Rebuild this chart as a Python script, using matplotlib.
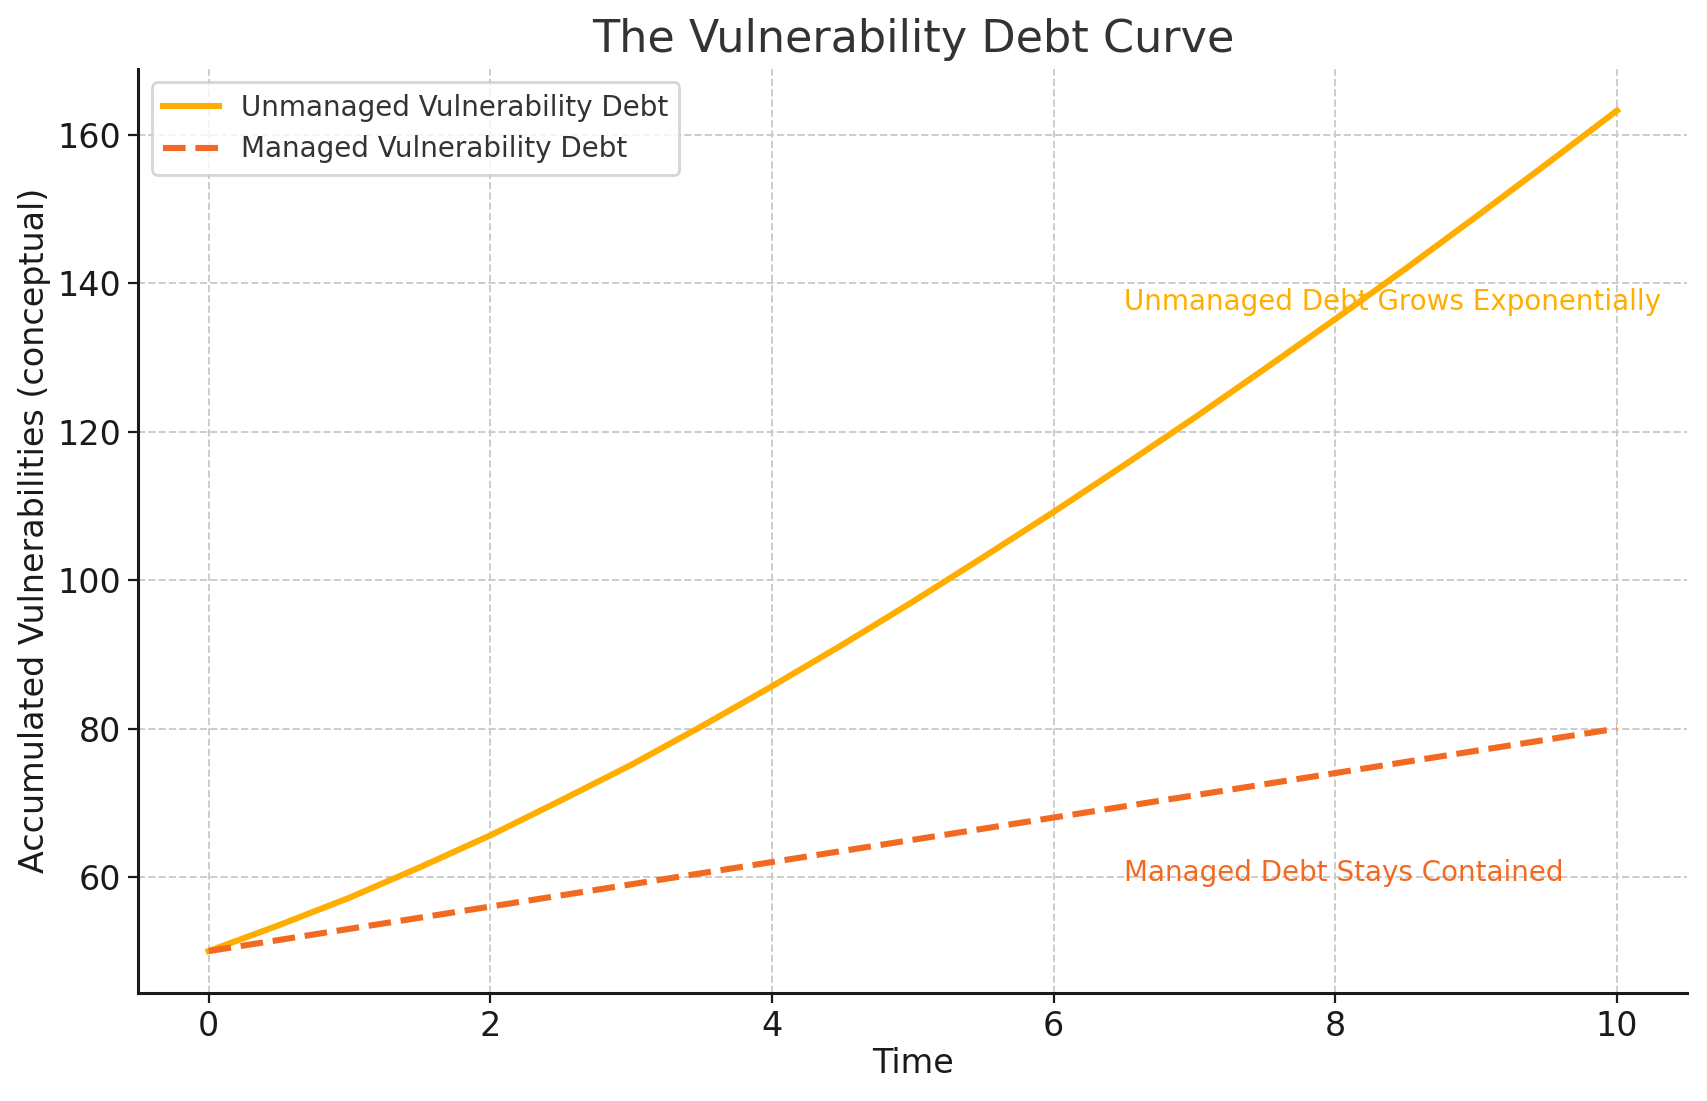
import matplotlib
matplotlib.use("Agg")
import matplotlib.pyplot as plt

# values
time = [0, 0.5, 1, 1.5, 2, 2.5, 3, 3.5, 4, 4.5, 5,
        5.5, 6, 6.5, 7, 7.5, 8, 8.5, 9, 9.5, 10]
unmanaged = [50.0, 53.5, 57.2, 61.3, 65.6, 70.3, 75.1, 80.3, 85.7, 91.3, 97.1,
             103.1, 109.2, 115.5, 121.9, 128.5, 135.2, 142.0, 149.0, 156.1, 163.3]
managed = [50, 51.5, 53, 54.5, 56, 57.5, 59, 60.5, 62, 63.5, 65,
           66.5, 68, 69.5, 71, 72.5, 74, 75.5, 77, 78.5, 80]

series_labels = ["Unmanaged Vulnerability Debt", "Managed Vulnerability Debt"]
note_unmanaged = "Unmanaged Debt Grows Exponentially"
note_managed = "Managed Debt Stays Contained"

c_unmanaged = "#FFAE00"
c_managed = "#F26A21"

fig = plt.figure(figsize=(8.535, 5.505), dpi=200)
ax = fig.add_axes([0.081, 0.098, 0.9075, 0.8397])

ax.plot(time, unmanaged, color=c_unmanaged, lw=2.2, label=series_labels[0])
ax.plot(time, managed, color=c_managed, lw=2.2, ls="--", label=series_labels[1])

ax.text(6.5, 136.4, note_unmanaged, color=c_unmanaged, fontsize=10)
ax.text(6.5, 59.4, note_managed, color=c_managed, fontsize=10)

ax.set_title("The Vulnerability Debt Curve", fontsize=16, color="#333333")
ax.set_xlabel("Time", fontsize=12, color="#1a1a1a", labelpad=1.5)
ax.set_ylabel("Accumulated Vulnerabilities (conceptual)", fontsize=12, color="#1a1a1a", labelpad=2.3)
ax.tick_params(labelsize=12, colors="#1a1a1a", pad=2.5)

ax.grid(True, ls="--", color="#cccccc", lw=0.7)
ax.set_axisbelow(True)
for s in ["top", "right"]:
    ax.spines[s].set_visible(False)
for s in ["left", "bottom"]:
    ax.spines[s].set_color("#1a1a1a")
    ax.spines[s].set_linewidth(1.1)

leg = ax.legend(loc="upper left", fontsize=10, labelcolor="#333333")

fig.savefig("out.png", dpi=200)
